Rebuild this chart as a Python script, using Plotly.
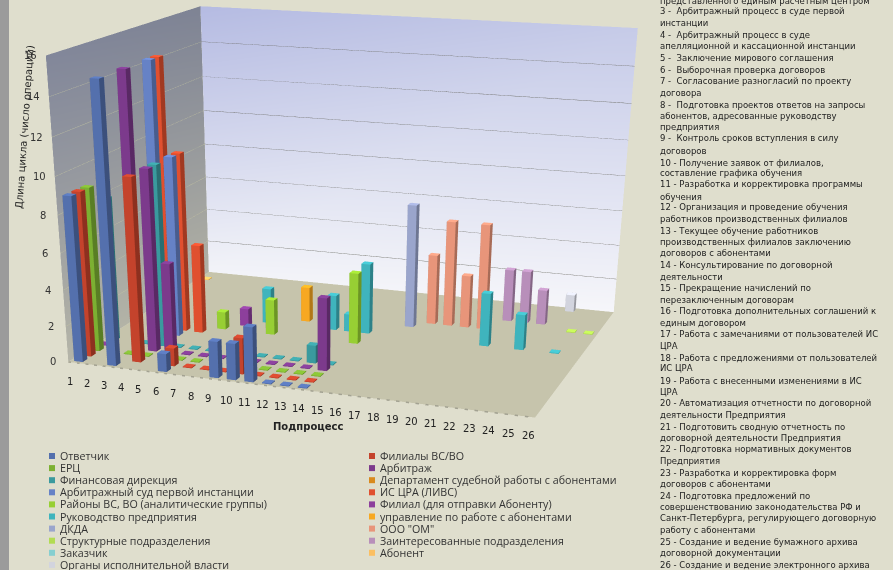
import plotly.graph_objects as go

N = None
categories = list(range(1, 26 + 1))
otvetchik = [9, N, 15, N, N, 1, N, N, 2, 2, 3, 0, 0, 0] + [N] * 12
filialy_vs = [9, N, N, 10, N, 1, 0, 0, 0, 2, 0, 0, 0, 0] + [N] * 12
erc = [9, N, 0, 0, N, 0, 0, N, N, N, 0, 0, 0, 0] + [N] * 12
arbitrazh = [0, N, 15, 10, 5, 0, 0, 0, N, 0, 0, 0, 0, 4] + [N] * 12
fin_direkciya = [8, N, 0, 10, 0, 0, 0, N, N, 0, 0, 0, 1, 0] + [N] * 12
departament = [N] * 26
arb_sud = [N, N, 15, 10] + [N] * 22
is_cra = [N, N, 15, 10, 5] + [N] * 21
rayony = [N, N, N, N, N, 1, N, N, 2, N, N, N, N, 4] + [N] * 12
filial = [N] * 6 + [1] + [N] * 19
rukovodstvo = [N] * 7 + [2, N, N, N, 2, 1, 4] + [N] * 6 + [3, N, 2, N, 0, N]
upravlenie = [N] * 9 + [2] + [N] * 16
dkda = [N] * 15 + [7] + [N] * 10
ooo_om = [N] * 16 + [4, 6, 3, 6] + [N] * 6
strukturnye = [N] * 24 + [0, 0]
zainteresovannye = [N] * 20 + [3, 3, 2] + [N] * 3
zakazchik = [N] * 26
abonent = [0] + [N] * 25
organy = [N] * 23 + [1] + [N] * 2

series_rows = [otvetchik, filialy_vs, erc, arbitrazh, fin_direkciya, departament, arb_sud, is_cra, rayony,
               filial, rukovodstvo, upravlenie, dkda, ooo_om, strukturnye, zainteresovannye, zakazchik, abonent, organy]
series_colors = ["#5470ad", "#c4432c", "#7cb032", "#7c3a8c", "#3a9a9e", "#d98a1e", "#6682c6", "#e0502f", "#97cf34",
                 "#8d3f9c", "#3fb4bd", "#f7a822", "#9aa5cc", "#e8957a", "#b2dc52", "#b88fba", "#86cfd0", "#fbbf62", "#d2d4de"]
legend_left = ["Ответчик", "ЕРЦ", "Финансовая дирекция", "Арбитражный суд первой инстанции", "Районы ВС, ВО (аналитические группы)",
               "Руководство предприятия", "ДКДА", "Структурные подразделения", "Заказчик", "Органы исполнительной власти"]
legend_left_rows = [0, 2, 4, 6, 8, 10, 12, 14, 16, 18]
legend_right = ["Филиалы ВС/ВО", "Арбитраж", "Департамент судебной работы с абонентами", "ИС ЦРА (ЛИВС)", "Филиал (для отправки Абоненту)",
                "управление по работе с абонентами", "ООО \"ОМ\"", "Заинтересованные подразделения", "Абонент"]
legend_right_rows = [1, 3, 5, 7, 9, 11, 13, 15, 17]
z_ticks = [0, 2, 4, 6, 8, 10, 12, 14, 16]
notes = ["представленного единым расчетным центром", "3 -  Арбитражный процесс в суде первой", "инстанции", "4 -  Арбитражный процесс в суде",
         "апелляционной и кассационной инстанции", "5 -  Заключение мирового соглашения", "6 -  Выборочная проверка договоров",
         "7 -  Согласование разногласий по проекту", "договора", "8 -  Подготовка проектов ответов на запросы", "абонентов, адресованные руководству",
         "предприятия", "9 -  Контроль сроков вступления в силу", "договоров", "10 - Получение заявок от филиалов,", "составление графика обучения",
         "11 - Разработка и корректировка программы", "обучения", "12 - Организация и проведение обучения", "работников производственных филиалов",
         "13 - Текущее обучение работников", "производственных филиалов заключению", "договоров с абонентами", "14 - Консультирование по договорной",
         "деятельности", "15 - Прекращение начислений по", "перезаключенным договорам", "16 - Подготовка дополнительных соглашений к", "единым договором",
         "17 - Работа с замечаниями от пользователей ИС", "ЦРА", "18 - Работа с предложениями от пользователей", "ИС ЦРА",
         "19 - Работа с внесенными изменениями в ИС", "ЦРА", "20 - Автоматизация отчетности по договорной", "деятельности Предприятия",
         "21 - Подготовить сводную отчетность по", "договорной деятельности Предприятия", "22 - Подготовка нормативных документов", "Предприятия",
         "23 - Разработка и корректировка форм", "договоров с абонентами", "24 - Подготовка предложений по", "совершенствованию законодательства РФ и",
         "Санкт-Петербурга, регулирующего договорную", "работу с абонентами", "25 - Создание и ведение бумажного архива", "договорной документации",
         "26 - Создание и ведение электронного архива"]
notes_y = [1, 11, 23, 35, 46, 58, 70, 81, 93, 105, 116, 127, 138, 151, 163, 173, 184, 197, 207, 219, 231, 242, 253, 265, 277,
           288, 300, 311, 323, 334, 346, 358, 368, 381, 392, 403, 415, 427, 438, 449, 461, 473, 484, 496, 507, 518, 530, 542, 553, 565]

W, H = 893, 570
# The scene needs a long lens and a low optical centre, so the figure runs past the visible page.
FIG_H = 1436
VIEW_CX, VIEW_H = 319.4589, 1435.8908
EYE = dict(x=1.1972, y=-3.5075, z=0.834)
LOOK_AT = dict(x=-0.0763, y=0, z=-1.2759)
ASPECT = dict(x=1, y=0.7474, z=0.6059)

BAR_DX, BAR_DY = 0.26, 0.27
FLOOR_TILE = 0.05  # zero-length bars still show as a flat tile on the floor
flat = dict(ambient=1, diffuse=0, specular=0, roughness=1, fresnel=0)


def shade(hex_color, k):
    rgb = [int(hex_color[i:i + 2], 16) for i in (1, 3, 5)]
    rgb = [min(255, int(v * k)) for v in rgb]
    return "#%02x%02x%02x" % tuple(rgb)


def cuboids(row, values, color, name):
    xs, ys, zs, ii, jj, kk, fc = [], [], [], [], [], [], []
    for cat, v in enumerate(values):
        if v is None:
            continue
        top = max(v, FLOOR_TILE)
        x0, x1 = cat + 0.5 - BAR_DX, cat + 0.5 + BAR_DX
        y0, y1 = row + 0.5 - BAR_DY, row + 0.5 + BAR_DY
        b = len(xs)
        xs += [x0, x1, x1, x0, x0, x1, x1, x0]
        ys += [y0, y0, y1, y1, y0, y0, y1, y1]
        zs += [0, 0, 0, 0, top, top, top, top]
        faces = [(0, 1, 5, 1.0), (0, 5, 4, 1.0),    # front
                 (1, 2, 6, 0.72), (1, 6, 5, 0.72),  # right
                 (4, 5, 6, 1.15), (4, 6, 7, 1.15),  # top
                 (0, 3, 7, 0.8), (0, 7, 4, 0.8),    # left
                 (3, 2, 6, 0.8), (3, 6, 7, 0.8)]    # back
        for a, c, d, k in faces:
            ii.append(b + a); jj.append(b + c); kk.append(b + d); fc.append(shade(color, k))
    if not xs:
        return None
    return go.Mesh3d(x=xs, y=ys, z=zs, i=ii, j=jj, k=kk, facecolor=fc, flatshading=True, lighting=flat,
                     name=name, hoverinfo="skip", showlegend=False)


def wall(x, y, z, colors):
    return go.Mesh3d(x=x, y=y, z=z, i=[0, 0], j=[1, 2], k=[2, 3], vertexcolor=colors, lighting=flat,
                     hoverinfo="skip", showlegend=False)


def edge(x, y, z, color, width, dash="solid"):
    return go.Scatter3d(x=x, y=y, z=z, mode="lines", line=dict(color=color, width=width, dash=dash),
                        hoverinfo="skip", showlegend=False)


fig = go.Figure()
n_cat, n_row, z_top = len(categories), len(series_rows), z_ticks[-1]
fig.add_trace(wall([0, n_cat, n_cat, 0], [0, 0, n_row, n_row], [0, 0, 0, 0], ["#c6c4ac"] * 4))
fig.add_trace(wall([0, 0, n_cat, n_cat], [n_row] * 4, [0, z_top, z_top, 0], ["#f2f3f8", "#b5bbe2", "#c6cbe8", "#f6f6fa"]))
fig.add_trace(wall([0, 0, 0, 0], [0, 0, n_row, n_row], [0, z_top, z_top, 0], ["#b5b5a8", "#82879a", "#7e8394", "#b0b0a4"]))

for t in z_ticks[1:-1]:
    fig.add_trace(edge([0, 0], [0, n_row], [t, t], "#c9c9a2", 1))
    fig.add_trace(edge([0, n_cat], [n_row, n_row], [t, t], "#5f5f55", 1))
fig.add_trace(edge([0, n_cat], [0, 0], [0, 0], "#a3a292", 3, "dash"))

row_names = {**dict(zip(legend_left_rows, legend_left)), **dict(zip(legend_right_rows, legend_right))}
for row, (vals, col) in enumerate(zip(series_rows, series_colors)):
    tr = cuboids(row, vals, col, row_names[row])
    if tr is not None:
        fig.add_trace(tr)

scene_notes = []
for c in categories:
    scene_notes.append(dict(x=c - 0.5, y=0, z=0, text=str(c), showarrow=False, yshift=-19, xshift=-7 + 0.4 * (c - 1),
                            font=dict(family="DejaVu Sans", size=10, color="#222")))
for t in z_ticks:
    scene_notes.append(dict(x=0, y=0, z=t, text=str(t), showarrow=False, xshift=-15,
                            font=dict(family="DejaVu Sans", size=10, color="#333")))

BG = "#dfdecd"
annots = []


def px(x, y, text, size, family="DejaVu Sans", color="#222", anchor="left", **kw):
    annots.append(dict(x=x / W, y=1 - y / FIG_H, xref="paper", yref="paper", text=text, showarrow=False,
                       xanchor=anchor, yanchor="middle", font=dict(family=family, size=size, color=color), **kw))


for t, y in zip(notes, notes_y):
    px(658, y, t, 8.5)
px(24, 127, "Длина цикла (число операций)", 10, textangle=-86, anchor="center")
px(308, 427, "<b>Подпроцесс</b>", 10, anchor="center")

shapes = [dict(type="rect", xref="paper", yref="paper", x0=0, x1=9 / W, y0=1 - H / FIG_H, y1=1,
               fillcolor="#9b9b9b", line=dict(width=0), layer="below")]


def legend(x, names, rows):
    for j, (t, r) in enumerate(zip(names, rows)):
        y = 456 + 12.1 * j
        shapes.append(dict(type="rect", xref="paper", yref="paper", x0=x / W, x1=(x + 6) / W,
                           y0=1 - (y + 3) / FIG_H, y1=1 - (y - 3) / FIG_H,
                           fillcolor=series_colors[r], line=dict(width=0), layer="below"))
        px(x + 9, y, t, 10.7, family="Open Sans", color="#333")


legend(49, legend_left, legend_left_rows)
legend(369, legend_right, legend_right_rows)

half = min(VIEW_CX, W - VIEW_CX)
fig.update_layout(
    width=W, height=FIG_H, margin=dict(l=0, r=0, t=0, b=0), paper_bgcolor=BG,
    annotations=annots, shapes=shapes, showlegend=False,
    scene=dict(
        domain=dict(x=[(VIEW_CX - half) / W, (VIEW_CX + half) / W], y=[max(0, 1 - VIEW_H / FIG_H), 1]),
        bgcolor="rgba(0,0,0,0)", annotations=scene_notes,
        xaxis=dict(range=[0, n_cat], visible=False),
        yaxis=dict(range=[0, n_row], visible=False),
        zaxis=dict(range=[0, z_top], visible=False),
        aspectmode="manual", aspectratio=ASPECT,
        camera=dict(eye=EYE, center=LOOK_AT, up=dict(x=0, y=0, z=1)),
    ),
)
fig.write_html("out.html", post_script="document.documentElement.style.overflow='hidden';document.body.style.overflow='hidden';")
